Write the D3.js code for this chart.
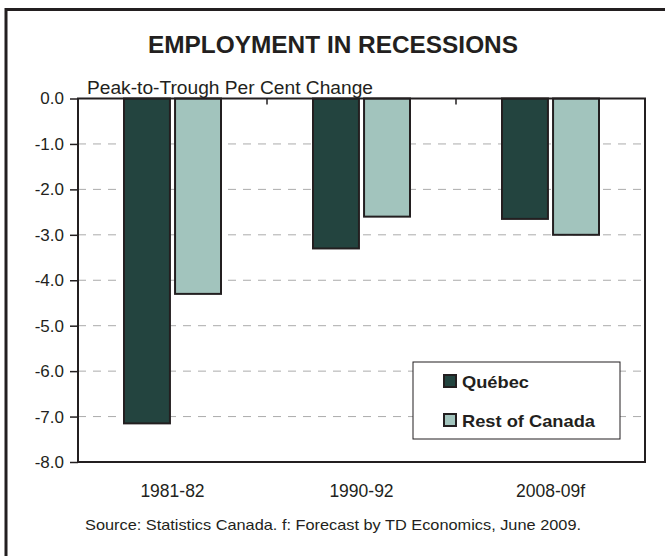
<!DOCTYPE html>
<html lang="en">
<head>
    <meta charset="UTF-8">
    <title>Employment in Recessions</title>
    <script src="https://d3js.org/d3.v7.min.js"></script>
    <style>
        body { margin: 0; background: #fff; }
        svg { font-family: "Liberation Sans", Arial, sans-serif; }
    </style>
</head>
<body>
<script>
    // data
    const categories = ["1981-82", "1990-92", "2008-09f"];
    const series = ["Québec", "Rest of Canada"];
    const quebec = [-7.15, -3.3, -2.65];
    const restOfCanada = [-4.3, -2.6, -3.0];
    const yTicks = [0, -1, -2, -3, -4, -5, -6, -7, -8];
    const colors = ["#23443f", "#a2c4bd"];

    const W = 665, H = 556;
    const plot = { left: 78, right: 645, top: 98.5, bottom: 462 };
    const ink = "#231f20";

    const svg = d3.select("body").append("svg")
        .attr("width", W)
        .attr("height", H);

    // outer frame (runs off the right and bottom edges)
    svg.append("path")
        .attr("d", "M6,560 L6,9.5 L670,9.5")
        .attr("fill", "none")
        .attr("stroke", ink)
        .attr("stroke-width", 3);

    // scales
    const x0 = d3.scaleBand()
        .domain(categories)
        .range([plot.left, plot.right])
        .padding(0);

    const groupW = 97;
    const x1 = d3.scaleBand()
        .domain(series)
        .range([0, groupW])
        .paddingInner(0.1);

    const y = d3.scaleLinear()
        .domain([0, -8])
        .range([plot.top, plot.bottom]);

    // gridlines
    svg.append("g")
        .selectAll("line")
        .data(yTicks.filter(d => d !== 0 && d !== -8))
        .enter()
        .append("line")
        .attr("x1", plot.left)
        .attr("x2", plot.right)
        .attr("y1", d => y(d))
        .attr("y2", d => y(d))
        .attr("stroke", "#ababab")
        .attr("stroke-width", 1)
        .attr("stroke-dasharray", "8,7");

    // bars
    const rows = categories.map((c, i) => ({ cat: c, vals: [quebec[i], restOfCanada[i]] }));
    const groups = svg.append("g")
        .selectAll("g")
        .data(rows)
        .enter()
        .append("g")
        .attr("transform", d => "translate(" + (x0(d.cat) + (x0.bandwidth() - groupW) / 2) + ",0)");

    groups.selectAll("rect")
        .data(d => d.vals.map((v, j) => ({ s: series[j], v: v, j: j })))
        .enter()
        .append("rect")
        .attr("x", d => x1(d.s))
        .attr("y", y(0))
        .attr("width", x1.bandwidth())
        .attr("height", d => y(d.v) - y(0))
        .attr("fill", d => colors[d.j])
        .attr("stroke", ink)
        .attr("stroke-width", 2);

    // plot area border
    svg.append("rect")
        .attr("x", plot.left)
        .attr("y", plot.top)
        .attr("width", plot.right - plot.left)
        .attr("height", plot.bottom - plot.top)
        .attr("fill", "none")
        .attr("stroke", ink)
        .attr("stroke-width", 2);

    // y axis
    const yAxis = d3.axisLeft(y)
        .tickValues(yTicks)
        .tickSize(8)
        .tickPadding(6);

    const gy = svg.append("g")
        .attr("transform", "translate(" + plot.left + ",0)")
        .call(yAxis);
    gy.select(".domain").remove();
    gy.selectAll(".tick line").attr("stroke", ink).attr("stroke-width", 1.5);
    gy.selectAll(".tick text")
        .attr("fill", ink)
        .style("font-size", "17px")
        .style("font-family", "Liberation Sans, Arial, sans-serif")
        .text(d => d === 0 ? "0.0" : "-" + Math.abs(d).toFixed(1));

    // category separator ticks at the zero line
    svg.append("g")
        .selectAll("line")
        .data(categories.slice(1))
        .enter()
        .append("line")
        .attr("x1", d => x0(d))
        .attr("x2", d => x0(d))
        .attr("y1", plot.top)
        .attr("y2", plot.top + 6)
        .attr("stroke", ink)
        .attr("stroke-width", 1.5);

    // category labels
    svg.append("g")
        .selectAll("text")
        .data(categories)
        .enter()
        .append("text")
        .attr("x", d => x0(d) + x0.bandwidth() / 2)
        .attr("y", 497)
        .attr("text-anchor", "middle")
        .attr("fill", ink)
        .style("font-size", "17.5px")
        .text(d => d);

    // titles
    svg.append("text")
        .attr("x", 333)
        .attr("y", 53)
        .attr("text-anchor", "middle")
        .attr("fill", ink)
        .attr("textLength", 370)
        .attr("lengthAdjust", "spacingAndGlyphs")
        .style("font-size", "23px")
        .style("font-weight", "bold")
        .text("EMPLOYMENT IN RECESSIONS");

    svg.append("text")
        .attr("x", 87)
        .attr("y", 94)
        .attr("fill", ink)
        .attr("textLength", 286)
        .attr("lengthAdjust", "spacingAndGlyphs")
        .style("font-size", "17.5px")
        .text("Peak-to-Trough Per Cent Change");

    // legend
    const legend = svg.append("g").attr("transform", "translate(413,362)");
    legend.append("rect")
        .attr("width", 207)
        .attr("height", 77)
        .attr("fill", "#fff")
        .attr("stroke", ink)
        .attr("stroke-width", 1);

    const legendW = [67, 133];
    const items = legend.selectAll("g")
        .data(series)
        .enter()
        .append("g")
        .attr("transform", (d, i) => "translate(31," + (13 + i * 39) + ")");
    items.append("rect")
        .attr("width", 12)
        .attr("height", 12)
        .attr("fill", (d, i) => colors[i])
        .attr("stroke", ink)
        .attr("stroke-width", 2);
    items.append("text")
        .attr("x", 18)
        .attr("y", 13)
        .attr("fill", ink)
        .attr("textLength", (d, i) => legendW[i])
        .attr("lengthAdjust", "spacingAndGlyphs")
        .style("font-size", "17px")
        .style("font-weight", "bold")
        .text(d => d);

    // source note
    svg.append("text")
        .attr("x", 333)
        .attr("y", 530)
        .attr("text-anchor", "middle")
        .attr("fill", ink)
        .attr("textLength", 496)
        .attr("lengthAdjust", "spacingAndGlyphs")
        .style("font-size", "15px")
        .text("Source: Statistics Canada. f: Forecast by TD Economics, June 2009.");
</script>
</body>
</html>
